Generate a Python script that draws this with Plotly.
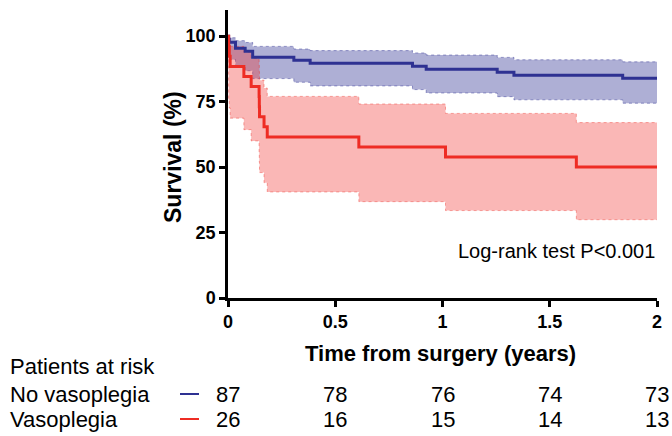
import plotly.graph_objects as go

# ---- data ----
blue_t = [0, 0.003, 0.006, 0.035, 0.08, 0.115, 0.307, 0.383, 0.86, 0.924, 1.255, 1.333, 1.84, 2.0]
blue_s = [100, 98.85, 97.70, 95.40, 94.25, 91.95, 90.80, 89.66, 88.51, 87.36, 86.21, 85.06, 83.91, 83.91]
blue_lo = [100, 92.1, 91.1, 88.4, 86.8, 83.8, 82.4, 81.0, 79.6, 78.3, 76.9, 75.7, 74.4, 74.4]
blue_hi = [100, 99.8, 99.4, 98.3, 97.6, 96.1, 95.1, 94.5, 93.6, 92.8, 91.9, 91.0, 90.2, 90.2]

red_t = [0, 0.003, 0.006, 0.010, 0.074, 0.108, 0.145, 0.146, 0.147, 0.168, 0.183, 0.61, 1.014, 1.624, 2.0]
red_s = [100, 96.15, 92.31, 88.46, 84.62, 80.77, 76.92, 73.08, 69.23, 65.38, 61.54, 57.69, 53.85, 50.0, 50.0]
red_lo = [100, 75.7, 72.6, 68.7, 64.3, 60.0, 55.7, 51.8, 47.9, 44.0, 40.5, 36.8, 33.4, 29.9, 29.9]
red_hi = [100, 99.4, 98.0, 96.1, 93.9, 91.5, 88.9, 86.1, 83.2, 80.2, 77.0, 74.1, 70.5, 67.0, 67.0]

x_ticks = [0, 0.5, 1, 1.5, 2]
x_ticktext = ["0", "0.5", "1", "1.5", "2"]
y_ticks = [0, 25, 50, 75, 100]

risk_times = [0, 0.5, 1, 1.5, 2]
risk_no = [87, 78, 76, 74, 73]
risk_vaso = [26, 16, 15, 14, 13]

group_names = ["No vasoplegia", "Vasoplegia"]

# ---- styles ----
FONT = "Liberation Sans, Arial, sans-serif"
BLUE = "rgb(46,49,146)"
RED = "rgb(238,44,36)"
BLUE_FILL = "rgba(46,49,146,0.39)"
RED_FILL = "rgba(240,50,45,0.35)"
BLUE_EDGE = "rgba(46,49,146,0.45)"
RED_EDGE = "rgba(238,44,36,0.40)"

fig = go.Figure()


def add_band(t, lo, hi, fillcol, edgecol):
    fig.add_trace(go.Scatter(x=t, y=hi, mode="lines",
                             line=dict(shape="hv", color=edgecol, width=1, dash="dot"),
                             hoverinfo="skip", showlegend=False))
    fig.add_trace(go.Scatter(x=t, y=lo, mode="lines", fill="tonexty", fillcolor=fillcol,
                             line=dict(shape="hv", color=edgecol, width=1, dash="dot"),
                             hoverinfo="skip", showlegend=False))


add_band(blue_t, blue_lo, blue_hi, BLUE_FILL, BLUE_EDGE)
add_band(red_t, red_lo, red_hi, RED_FILL, RED_EDGE)

fig.add_trace(go.Scatter(x=blue_t, y=blue_s, mode="lines", name=group_names[0],
                         line=dict(shape="hv", color=BLUE, width=3), showlegend=False))
fig.add_trace(go.Scatter(x=red_t, y=red_s, mode="lines", name=group_names[1],
                         line=dict(shape="hv", color=RED, width=3), showlegend=False))

L, R, T, B = 228, 15, 10, 138
W, H = 672, 436
pw, ph = W - L - R, H - T - B


def px_x(px):
    return (px - L) / pw


def px_y(py):
    return (H - B - py) / ph


axis_common = dict(showline=True, linecolor="black", linewidth=2.5, ticks="outside",
                   ticklen=6, tickwidth=2.5, tickcolor="black", showgrid=False,
                   zeroline=False,
                   tickfont=dict(family=FONT, size=18, color="black", weight="bold"))

fig.update_layout(
    width=W, height=H, autosize=False,
    margin=dict(l=L, r=R, t=T, b=B, pad=0),
    plot_bgcolor="white", paper_bgcolor="white",
    xaxis=dict(range=[0, 2], tickvals=x_ticks, ticktext=x_ticktext, **axis_common),
    yaxis=dict(range=[0, 110], tickvals=y_ticks, **axis_common),
    showlegend=False,
)

ann = []
ann.append(dict(text="Survival (%)", textangle=-90, xref="paper", yref="paper",
                x=px_x(173), y=px_y(157), showarrow=False, xanchor="center", yanchor="middle",
                font=dict(family=FONT, size=23, color="black", weight="bold")))
ann.append(dict(text="Time from surgery (years)", xref="paper", yref="paper",
                x=px_x(440), y=px_y(353), showarrow=False, xanchor="center", yanchor="middle",
                font=dict(family=FONT, size=22, color="black", weight="bold")))
ann.append(dict(text="Log-rank test P<0.001", xref="x", yref="y", x=2, y=18,
                showarrow=False, xanchor="right", yanchor="middle",
                font=dict(family=FONT, size=20, color="black")))

RFONT = dict(family=FONT, size=22, color="black")
ann.append(dict(text="Patients at risk", xref="paper", yref="paper", x=px_x(8), y=px_y(366),
                showarrow=False, xanchor="left", yanchor="middle", font=RFONT))
row_y = [px_y(394), px_y(419)]
for name, yy in zip(group_names, row_y):
    ann.append(dict(text=name, xref="paper", yref="paper", x=px_x(8), y=yy,
                    showarrow=False, xanchor="left", yanchor="middle", font=RFONT))
for counts, yy in zip([risk_no, risk_vaso], row_y):
    for t, c in zip(risk_times, counts):
        ann.append(dict(text=str(c), xref="x", yref="paper", x=t, y=yy,
                        showarrow=False, xanchor="center", yanchor="middle", font=RFONT))

fig.update_layout(annotations=ann)

for col, yy in zip([BLUE, RED], row_y):
    fig.add_shape(type="line", xref="paper", yref="paper", x0=px_x(180), x1=px_x(199),
                  y0=yy, y1=yy, line=dict(color=col, width=2))

fig.write_html(
    "out.html",
    config={"displayModeBar": False},
    post_script="document.body.style.margin='0';document.body.style.padding='0';"
                "document.body.style.overflow='hidden';",
)
